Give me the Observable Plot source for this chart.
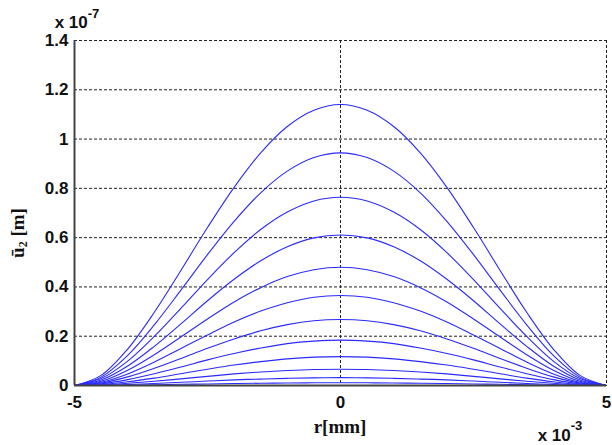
<!DOCTYPE html>
<html>
<head>
<meta charset="utf-8">
<script src="https://cdn.jsdelivr.net/npm/d3@7"></script>
<script src="https://cdn.jsdelivr.net/npm/@observablehq/plot@0.6"></script>
<style>
  html, body { margin: 0; padding: 0; background: #fff; }
  #chart { width: 612px; height: 445px; overflow: hidden; }
</style>
</head>
<body>
<div id="chart"></div>
<script>
// r positions (x 10^-3)
const r = [-5, -4.5, -4, -3.5, -3, -2.5, -2, -1.5, -1, -0.5, 0, 0.5, 1, 1.5, 2, 2.5, 3, 3.5, 4, 4.5, 5];
// displacement curves (x 10^-7 m)
const c1  = [0, 0.041, 0.148, 0.297, 0.467, 0.641, 0.804, 0.944, 1.051, 1.117, 1.140, 1.117, 1.051, 0.944, 0.804, 0.641, 0.467, 0.297, 0.148, 0.041, 0];
const c2  = [0, 0.034, 0.122, 0.246, 0.387, 0.531, 0.666, 0.782, 0.870, 0.925, 0.944, 0.925, 0.870, 0.782, 0.666, 0.531, 0.387, 0.246, 0.122, 0.034, 0];
const c3  = [0, 0.028, 0.099, 0.199, 0.313, 0.430, 0.539, 0.633, 0.704, 0.749, 0.764, 0.749, 0.704, 0.633, 0.539, 0.430, 0.313, 0.199, 0.099, 0.028, 0];
const c4  = [0, 0.022, 0.079, 0.159, 0.250, 0.344, 0.431, 0.506, 0.563, 0.599, 0.611, 0.599, 0.563, 0.506, 0.431, 0.344, 0.250, 0.159, 0.079, 0.022, 0];
const c5  = [0, 0.017, 0.062, 0.125, 0.197, 0.270, 0.339, 0.397, 0.442, 0.470, 0.480, 0.470, 0.442, 0.397, 0.339, 0.270, 0.197, 0.125, 0.062, 0.017, 0];
const c6  = [0, 0.013, 0.047, 0.095, 0.150, 0.205, 0.258, 0.302, 0.336, 0.358, 0.365, 0.358, 0.336, 0.302, 0.258, 0.205, 0.150, 0.095, 0.047, 0.013, 0];
const c7  = [0, 0.010, 0.035, 0.070, 0.110, 0.151, 0.189, 0.222, 0.247, 0.263, 0.268, 0.263, 0.247, 0.222, 0.189, 0.151, 0.110, 0.070, 0.035, 0.010, 0];
const c8  = [0, 0.007, 0.024, 0.048, 0.075, 0.104, 0.130, 0.152, 0.170, 0.180, 0.184, 0.180, 0.170, 0.152, 0.130, 0.104, 0.075, 0.048, 0.024, 0.007, 0];
const c9  = [0, 0.004, 0.015, 0.030, 0.048, 0.066, 0.083, 0.097, 0.108, 0.115, 0.117, 0.115, 0.108, 0.097, 0.083, 0.066, 0.048, 0.030, 0.015, 0.004, 0];
const c10 = [0, 0.002, 0.009, 0.017, 0.027, 0.037, 0.047, 0.055, 0.061, 0.065, 0.066, 0.065, 0.061, 0.055, 0.047, 0.037, 0.027, 0.017, 0.009, 0.002, 0];
const c11 = [0, 0.001, 0.004, 0.008, 0.013, 0.018, 0.023, 0.026, 0.029, 0.031, 0.032, 0.031, 0.029, 0.026, 0.023, 0.018, 0.013, 0.008, 0.004, 0.001, 0];
const c12 = [0, 0.000, 0.001, 0.003, 0.005, 0.006, 0.008, 0.009, 0.010, 0.011, 0.011, 0.011, 0.010, 0.009, 0.008, 0.006, 0.005, 0.003, 0.001, 0.000, 0];

const xTicks = [-5, 0, 5];
const yTicks = [0, 0.2, 0.4, 0.6, 0.8, 1, 1.2, 1.4];
const yTickLabels = ["0", "0.2", "0.4", "0.6", "0.8", "1", "1.2", "1.4"];
const xTickLabels = ["-5", "0", "5"];

const series = [c1, c2, c3, c4, c5, c6, c7, c8, c9, c10, c11, c12];
const data = series.flatMap((vals, k) => vals.map((u, j) => ({r: r[j], u, k})));

const W = 612, H = 445;
const plot = Plot.plot({
  width: W,
  height: H,
  marginLeft: 74,
  marginRight: 6,
  marginTop: 40,
  marginBottom: 60,
  x: {domain: [-5, 5], label: null},
  y: {domain: [0, 1.4], label: null},
  style: {
    fontFamily: "'Liberation Sans', Arial, sans-serif",
    fontWeight: "bold",
    fontSize: "17px",
    color: "#111",
    background: "#fff",
    overflow: "visible"
  },
  marks: [
    Plot.ruleY(yTicks.slice(1), {stroke: "#222", strokeWidth: 1, strokeDasharray: "3,2"}),
    Plot.ruleX(xTicks.slice(1), {stroke: "#222", strokeWidth: 1, strokeDasharray: "3,2"}),
    Plot.line(data, {x: "r", y: "u", z: "k", stroke: "#2a2aff", strokeWidth: 1.1, curve: "catmull-rom"}),
    Plot.ruleX([-5], {stroke: "#444", strokeWidth: 2}),
    Plot.ruleY([0], {stroke: "#444", strokeWidth: 2}),
    Plot.axisY(yTicks, {label: null, tickSize: 0, tickPadding: 6, tickFormat: (d, i) => yTickLabels[i], fontSize: 17}),
    Plot.axisX(xTicks, {label: null, tickSize: 0, tickPadding: 10, tickFormat: (d, i) => xTickLabels[i], fontSize: 17})
  ]
});
document.getElementById("chart").appendChild(plot);

const svg = d3.select(plot);
// multiplier at top left
const t1 = svg.append("text").attr("x", 77).attr("y", 28)
  .attr("font-family", "'Liberation Sans', Arial, sans-serif").attr("font-weight", "bold").attr("font-size", 17).attr("fill", "#111");
t1.append("tspan").text("x 10");
t1.append("tspan").attr("dy", -10).attr("font-size", 13).text("-7");
// multiplier at bottom right
const t2 = svg.append("text").attr("x", 560).attr("y", 441)
  .attr("font-family", "'Liberation Sans', Arial, sans-serif").attr("font-weight", "bold").attr("font-size", 17).attr("fill", "#111");
t2.append("tspan").text("x 10");
t2.append("tspan").attr("dy", -11).attr("font-size", 13).text("-3");
// x label
svg.append("text").attr("x", 340).attr("y", 433).attr("text-anchor", "middle")
  .attr("font-family", "'Liberation Serif', 'Times New Roman', serif").attr("font-weight", "bold").attr("font-size", 19).attr("fill", "#111")
  .text("r[mm]");
// y label
const yl = svg.append("text").attr("transform", "translate(24,233) rotate(-90)").attr("text-anchor", "middle")
  .attr("font-family", "'Liberation Serif', 'Times New Roman', serif").attr("font-weight", "bold").attr("font-size", 19).attr("fill", "#111");
yl.append("tspan").text("\u016B");
yl.append("tspan").attr("font-size", 12).attr("dy", 3).text("2");
yl.append("tspan").attr("dy", -3).text(" [m]");
</script>
</body>
</html>
